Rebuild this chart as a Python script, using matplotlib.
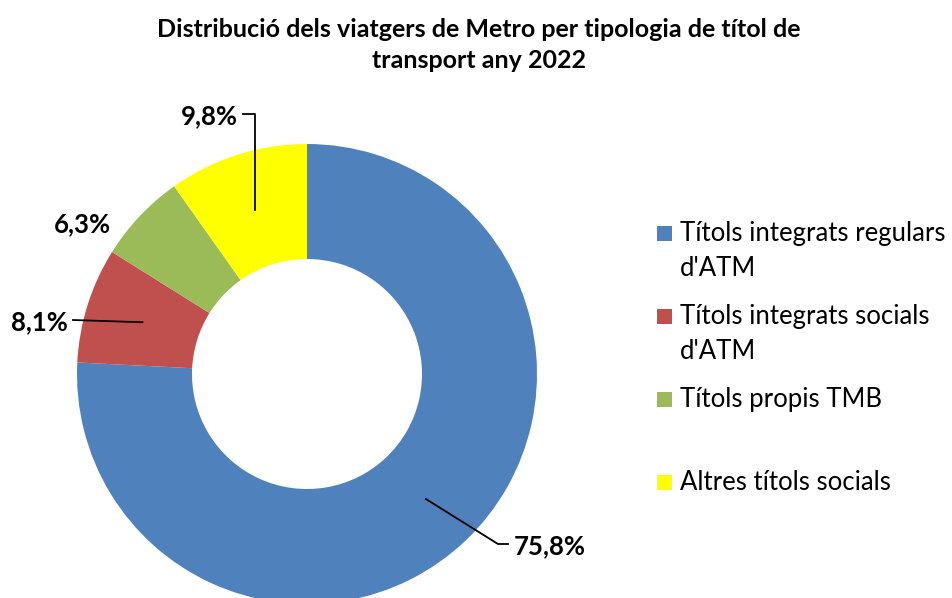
import matplotlib.pyplot as plt
import numpy as np
from matplotlib.patches import Rectangle

plt.rcParams['font.family'] = ['Lato', 'DejaVu Sans']

categories = ["Títols integrats regulars\nd'ATM", "Títols integrats socials\nd'ATM",
              "Títols propis TMB", "Altres títols socials"]
values = [75.8, 8.1, 6.3, 9.8]
colors = ["#4F81BD", "#C0504D", "#9BBB59", "#FFFF00"]
title = "Distribució dels viatgers de Metro per tipologia de títol de\ntransport any 2022"

W, H = 953, 598
R = 230.0          # outer radius in px
cx, cy = 307, 374  # centre in px (from top)

fig = plt.figure(figsize=(W / 100, H / 100), dpi=100)
ax = fig.add_axes([0, 0, 1, 1])

wedges, _ = ax.pie(values, colors=colors, startangle=90, counterclock=False,
                   radius=1.0, wedgeprops=dict(width=0.5, linewidth=0))
# pie resets the limits, so set them afterwards (1 unit = R px)
ax.set_xlim(-cx / R, (W - cx) / R)
ax.set_ylim(-(H - cy) / R, cy / R)
ax.set_aspect("equal")
ax.axis("off")

lab_style = dict(fontsize=18.5, fontweight="bold", color="black")
line_style = dict(color="black", lw=1.3)


def anchor(w):
    ang = np.deg2rad((w.theta1 + w.theta2) / 2)
    return 0.75 * np.cos(ang), 0.75 * np.sin(ang)


def px(x, y):
    return (x - cx) / R, (cy - y) / R


txt = [f"{v:.1f}%".replace(".", ",") for v in values]

# 75,8%
ax0, ay0 = anchor(wedges[0])
x1, y1 = px(498, 544)
x2, y2 = px(508, 544)
ax.plot([ax0, x1, x2], [ay0, y1, y2], **line_style)
ax.text(*px(514, 546), txt[0], ha="left", va="center", **lab_style)

# 8,1%
ax1, ay1 = anchor(wedges[1])
x1, y1 = px(73, 320)
ax.plot([ax1, x1], [ay1, y1], **line_style)
ax.text(*px(68, 322), txt[1], ha="right", va="center", **lab_style)

# 6,3%
ax.text(*px(111, 224), txt[2], ha="right", va="center", **lab_style)

# 9,8%
ax3, ay3 = anchor(wedges[3])
x1, y1 = px(243, 114)
ax.plot([x1, ax3, ax3], [y1, y1, ay3], **line_style)
ax.text(*px(238, 116), txt[3], ha="right", va="center", **lab_style)

fig.text(479 / W, 1 - 45 / H, title, ha="center", va="center", fontsize=18,
         fontweight="bold", linespacing=1.45)

# legend
leg_y = [233, 316, 399, 482]
for c, lab, y in zip(colors, categories, leg_y):
    fig.patches.append(Rectangle((657 / W, 1 - (y + 8) / H), 15 / W, 15 / H,
                                 transform=fig.transFigure, facecolor=c,
                                 edgecolor="none", zorder=5))
    fig.text(680 / W, 1 - (y - 12) / H, lab, ha="left", va="top",
             fontsize=18.5, linespacing=1.5)

fig.savefig("out.png", dpi=100)
